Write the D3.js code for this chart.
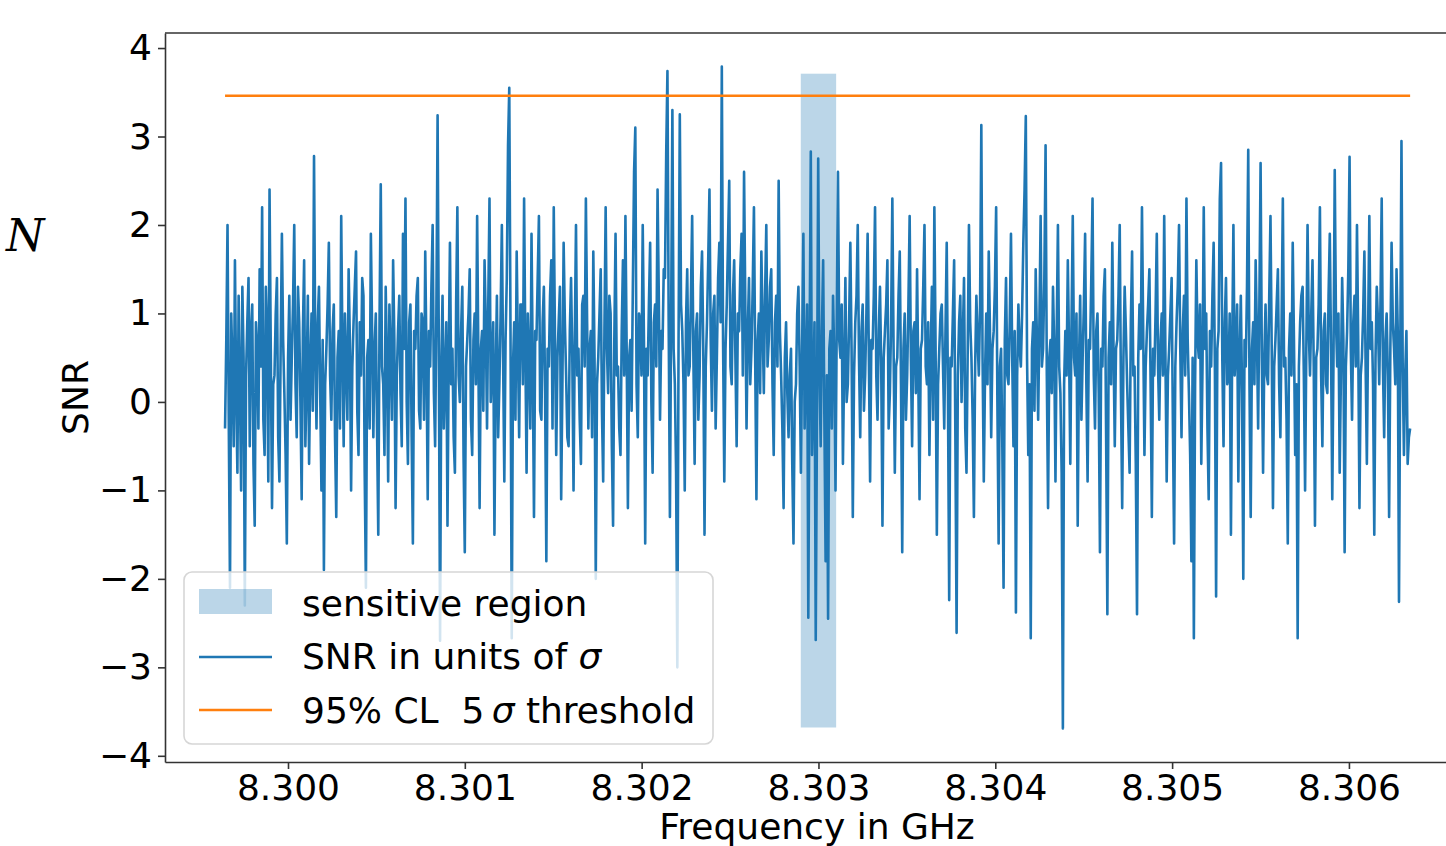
<!DOCTYPE html>
<html>
<head>
<meta charset="utf-8">
<script src="https://cdn.jsdelivr.net/npm/d3@7"></script>
<style>
  body { margin: 0; background: #fff; }
</style>
</head>
<body>
<div id="chart"></div>
<script>
// frequency grid of the scan (GHz), evenly spaced
const freqStart = 8.299644,
      freqEnd = 8.306346;

// SNR in units of sigma
const snr = [
  -0.3, 0.7, 2.0, -0.2, -2.1, 1.0, 0.4, -0.5, 1.6, 0.1, -0.8, 1.2, 0.2, -1.0, 1.3, 0.5, -2.3, 0.3, 0.9, 1.4, -0.5, 0.8, 1.1, -0.7, -1.4, 0.9, 0.6, -0.3, 1.5, 0.4, 2.2, -0.2, -0.6, 1.3, 0.8, -0.9, 2.4, 0.6, -1.2, 0.2,
  0.3, 1.0, 1.4, -0.4, -0.9, 0.6, 1.9, 0.7, 0.1, -0.6, -1.6, 0.5, 1.2, -0.2, 0.5, 1.1, 2.0, 0.2, -0.4, 1.3, 0.9, 0.0, -1.1, 0.8, 1.6, -0.5, 0.2, 1.2, -0.7, 0.4, 1.0, -0.1, 2.78, 0.6, -0.3, 0.9, 1.3, 0.1, -1.0, 0.7,
  -1.9, 0.2, 0.6, 1.1, 1.8, 0.3, -0.2, 0.8, 1.1, -0.4, -1.3, 0.5, 0.8, -0.3, 2.1, 0.6, -0.5, 1.0, 0.4, -0.2, 1.5, 0.7, -1.0, 0.4, 0.9, 1.3, 1.7, -0.1, -0.6, 0.9, 0.3, 1.4, 1.2, -0.8, -2.1, 0.5, 0.7, -0.3, 1.9, 0.8,
  -0.4, 0.6, 1.0, -0.3, -1.5, 0.9, 2.46, 0.4, 0.2, -0.6, 1.3, 0.5, -0.9, 1.1, 0.5, -0.2, 1.6, 0.7, -1.2, 0.3, 0.8, 1.2, 0.1, -0.5, 1.9, 0.6, 2.3, 0.0, -0.7, 0.9, 1.1, -0.4, -1.6, 0.8, 0.6, 1.2, 1.4, -0.1, -0.3, 1.0,
  0.9, -0.2, 1.7, 0.5, -1.1, 0.8, 0.4, 1.3, 2.0, 0.1, -0.5, 1.0, 3.24, 0.6, -2.7, 0.4, 1.2, -0.3, 0.3, 0.9, -1.4, 0.5, 1.8, 0.2, 0.6, -0.4, -0.8, 1.1, 2.2, 0.3, 0.0, 0.8, 1.3, -0.6, -1.7, 0.4, 0.7, 1.0, 1.5, -0.2,
  -0.6, 0.7, 1.0, 0.2, 2.1, 0.5, -1.2, 0.6, 0.8, -0.1, 1.6, 0.9, -0.3, 1.1, 2.3, 0.0, 0.4, 0.9, -1.5, 0.3, 1.2, -0.4, 0.2, 1.0, 2.0, 0.5, -0.9, 0.7, 1.4, 2.9, 3.55, 0.8, -2.67, 0.4, 0.9, -0.2, 1.7, 0.6, -0.4, 1.1,
  1.1, 0.2, 2.3, 0.6, -0.8, 1.0, 0.5, -0.3, 1.9, 0.4, -1.3, 0.8, 0.7, 1.4, 2.1, -0.1, -0.2, 0.9, 1.3, 0.1, -1.8, 0.6, 0.4, 1.2, 1.6, -0.3, 2.2, 0.7, -0.6, 0.5, 0.9, 1.3, -1.1, 0.2, 1.8, 0.9, 0.3, -0.4, -0.5, 0.8,
  1.4, 0.5, -1.0, 0.7, 2.0, 0.3, 0.6, -0.2, -0.7, 1.1, 1.2, 0.4, 2.3, 0.9, -0.3, 0.6, 0.8, -0.4, 1.7, 0.5, -2.0, 0.2, 0.5, 1.0, 1.5, -0.1, -0.9, 0.8, 2.2, 0.6, 0.1, 1.2, 1.0, -0.5, -1.4, 0.7, 1.9, 0.3, 0.4, -0.3,
  -0.6, 0.8, 1.6, 0.3, 2.1, 0.6, -1.2, 0.5, 0.7, -0.1, 1.3, 2.6, 3.1, 0.2, -0.4, 1.0, 0.9, 0.3, 2.0, 0.7, -1.6, 0.6, 0.3, 1.1, 1.8, 0.0, -0.8, 0.9, 1.1, 0.4, 2.4, 1.2, -0.2, 0.8, 0.6, 1.5, 1.4, 2.8, 3.74, 0.9,
  -1.3, 1.0, 3.3, 0.6, 0.2, -0.8, -3.0, 0.7, 3.25, 1.1, 0.8, 0.2, -1.0, 0.9, 1.5, 0.3, 0.4, 1.2, 2.1, 0.5, -0.7, 0.8, 1.0, -0.2, 0.3, 1.3, 1.7, 0.6, -1.5, 0.4, 0.9, 1.6, 2.4, 0.7, -0.1, 1.0, 1.2, -0.3, 0.5, 1.4,
  1.8, 0.9, 3.79, 0.7, -0.9, 0.6, 1.1, 1.8, 2.5, 0.4, 0.2, 1.2, 1.6, 0.5, -0.5, 1.0, 0.8, 1.5, 1.9, 0.3, 2.6, 1.1, -0.3, 0.8, 1.4, 0.2, 0.6, 1.3, 2.2, 0.5, -1.1, 0.7, 1.0, 0.1, 1.7, 0.9, 0.1, 1.2, 2.0, 0.4,
  0.7, 1.3, 1.5, 0.2, -0.6, 0.9, 1.2, 0.4, 2.5, 0.8, 0.3, -0.3, -1.2, 0.5, 0.9, 0.1, -0.4, 0.3, 0.6, -0.7, -1.6, 0.0, 0.2, 1.0, 1.3, 0.4, -0.8, 0.6, 1.9, -0.3, 0.4, 1.1, -2.44, 0.5, 2.83, -0.6, 0.1, 0.9, -2.69, -0.2,
  2.75, 0.4, -0.5, 0.8, 1.6, -0.2, -1.8, 0.3, -2.45, 0.6, 0.8, -0.3, 1.2, 0.5, -1.0, 0.9, 2.6, 0.7, 0.5, 1.1, -0.7, 0.4, 1.4, 0.0, 0.2, 0.9, 1.8, 0.6, -1.3, 0.3, 0.9, 1.2, 2.0, 0.5, -0.4, 0.8, 1.1, -0.1, 0.3, 1.0,
  1.9, 0.5, -0.9, 0.7, 0.6, 1.2, 2.2, 0.3, -0.2, 0.8, 1.3, 0.4, -1.4, 0.5, 0.8, 1.1, 1.6, -0.3, 0.1, 0.9, 2.3, 0.6, -0.8, 0.4, 0.5, 1.2, 1.7, 0.2, -1.7, 0.6, 1.0, -0.2, 0.3, 1.1, 2.1, 0.5, -0.5, 0.8, 0.9, 0.1,
  1.5, 0.3, -1.1, 0.6, 0.7, 1.3, 2.0, 0.4, 0.2, 0.9, -0.6, 0.5, 1.3, -0.2, 2.2, 0.6, -1.5, 0.2, 0.6, 1.0, 1.1, 0.4, -0.3, 0.8, 1.8, 0.1, -2.24, 0.5, 0.4, 1.0, 1.6, -0.4, -2.61, 0.3, 0.9, 1.2, 0.0, 0.7, 1.4, -0.3,
  -0.8, 0.6, 2.0, 0.9, 0.5, -0.2, -1.3, 0.4, 1.2, 0.7, 0.3, 1.1, 3.13, 0.5, -0.9, 0.3, 1.0, 0.2, 1.7, 0.8, -0.4, 0.6, 0.8, 1.3, 2.2, 0.0, -1.6, 0.4, 0.6, -0.5, -2.1, 0.7, 1.4, 0.3, 0.2, 0.9, 1.9, 0.5, -0.5, 0.8,
  -2.38, 0.3, 1.1, 0.6, 0.4, 1.0, 1.8, 2.4, 3.23, 0.5, -0.6, 0.2, -2.67, 0.6, 0.9, -0.1, 1.5, 0.7, -0.2, 0.9, 2.1, 0.4, 0.6, 1.4, 2.9, 0.3, -1.2, 0.5, 0.7, 0.1, 1.3, 0.6, -0.9, 0.8, 2.0, 0.4, 0.1, -0.8, -3.69, 0.2,
  0.8, 0.3, 1.6, 0.6, -0.7, 0.9, 2.1, 0.5, 0.3, 1.0, -1.4, 0.4, 1.2, -0.2, 0.5, 1.1, 1.9, 0.2, -0.9, 0.7, 0.6, 1.4, 2.3, 0.3, -0.3, 0.8, 1.0, 0.1, -1.7, 0.6, 0.4, 1.2, 1.5, -0.4, -2.4, 0.5, 0.9, 0.2, 1.8, 0.6,
  -0.5, 0.6, 0.7, 1.2, 2.0, 0.1, -1.2, 0.5, 1.3, 0.8, 0.2, -0.3, -0.8, 0.9, 1.7, 0.3, 0.4, -0.7, -2.4, 0.5, 1.1, 0.6, 2.2, 0.8, -0.6, 0.4, 0.8, 1.1, 1.5, 0.2, -1.3, 0.6, 0.3, 1.0, 1.9, 0.4, -0.2, 0.7, 1.0, 0.3,
  2.1, 0.5, -0.9, 0.3, 0.6, 1.0, 1.4, -0.2, -1.6, 0.4, 0.9, 1.3, 2.0, 0.6, -0.4, 0.8, 1.2, 0.3, 2.3, 0.7, 0.1, -0.6, -1.8, 0.5, -2.67, 0.2, 1.6, 0.7, 0.5, 1.1, -0.7, 0.4, 2.2, 0.6, 1.0, -0.3, -1.1, 0.8, 0.4, 1.2,
  1.8, 0.4, -2.2, 0.6, 0.8, 2.3, 2.7, 0.5, -0.5, 0.9, 1.4, 0.2, 0.3, 1.0, -1.5, 0.6, 2.0, 0.3, 0.6, 1.1, -0.9, 0.5, 1.2, 0.1, -2.0, 0.7, 0.4, 1.3, 2.85, 0.2, -1.3, 0.6, 0.9, 0.2, 1.6, 0.8, -0.3, 1.1, 2.7, 0.5,
  -0.8, 0.5, 1.1, 0.3, 0.2, 1.2, 2.1, 0.6, -1.2, 0.4, 0.7, 1.1, 1.5, 0.2, -0.4, 0.9, 2.3, 0.4, 0.5, -0.2, -1.6, 0.6, 1.0, 0.3, 1.8, 0.7, -0.6, 0.2, -2.67, 0.4, 0.9, 1.2, 1.3, 0.3, -1.0, 0.6, 2.0, 0.8, 0.3, 1.0,
  1.6, 0.4, -1.4, 0.5, 0.6, 1.1, 2.2, 0.3, -0.5, 0.8, 1.0, 0.2, 0.1, 1.2, 1.9, 0.6, -1.1, 0.5, 2.62, 0.9, 0.4, 1.0, -0.8, 0.3, 1.4, 0.7, -1.7, 0.4, 0.8, 1.5, 2.77, 0.6, -0.2, 0.9, 1.2, 0.4, 2.0, 0.7, -1.2, 0.3,
  0.5, 1.0, 1.7, 0.4, -0.7, 0.8, 2.1, 0.6, 0.9, 0.2, -1.5, 0.5, 1.3, 0.9, 0.2, 1.1, 2.3, 0.4, -0.4, 0.7, 1.0, 0.3, -1.3, 0.6, 1.8, 0.9, 0.6, 0.2, 1.5, 0.8, -2.26, 0.5, 2.95, 0.4, -0.6, 0.3, 0.8, -0.7, -0.4, -0.3
];

// threshold and sensitive region
const threshold = [3.46];
const regionFreq = [8.3029, 8.3031];
const regionSnr = [-3.68, 3.71];

const xTicks = [8.300, 8.301, 8.302, 8.303, 8.304, 8.305, 8.306];
const yTicks = [-4, -3, -2, -1, 0, 1, 2, 3, 4];
const legendLabels = ["sensitive region", "SNR in units of ", "95% CL  5\u2009", " threshold"];

const width = 1446, height = 846,
      margin = ({top: 33, left: 165, bottom: 762, right: 1469});

const blue = "#1f77b4", orange = "#ff7f0e",
      sans = "'DejaVu Sans', sans-serif";

let data = snr.map((v, i) => ({
  f: freqStart + i * (freqEnd - freqStart) / (snr.length - 1),
  v: v
}));

let svg = d3.select("#chart")
  .append("svg")
  .attr("width", width)
  .attr("height", height)
  .attr("viewBox", [0, 0, width, height])
  .style("font-family", sans);

const x = d3.scaleLinear()
  .domain([8.2993044, 8.306679])
  .range([margin.left, margin.right]);

const y = d3.scaleLinear()
  .domain([-4.07, 4.17])
  .range([margin.bottom, margin.top]);

// sensitive region
svg.append("rect")
  .attr("x", x(regionFreq[0]))
  .attr("width", x(regionFreq[1]) - x(regionFreq[0]))
  .attr("y", y(regionSnr[1]))
  .attr("height", y(regionSnr[0]) - y(regionSnr[1]))
  .attr("fill", blue)
  .attr("fill-opacity", 0.3);

// SNR trace
const line = d3.line()
  .x(d => x(d.f))
  .y(d => y(d.v));

svg.append("path")
  .datum(data)
  .attr("fill", "none")
  .attr("stroke", blue)
  .attr("stroke-width", 2.6)
  .attr("stroke-linejoin", "round")
  .attr("d", line);

// threshold line
svg.append("line")
  .attr("x1", x(freqStart))
  .attr("x2", x(freqEnd))
  .attr("y1", y(threshold[0]))
  .attr("y2", y(threshold[0]))
  .attr("stroke", orange)
  .attr("stroke-width", 2.5);

// axes
const xAxis = g => g
  .attr("transform", `translate(0, ${margin.bottom})`)
  .call(d3.axisBottom(x).tickValues(xTicks).tickFormat(d3.format(".3f"))
    .tickSize(7).tickPadding(5).tickSizeOuter(0));

const yAxis = g => g
  .attr("transform", `translate(${margin.left}, 0)`)
  .call(d3.axisLeft(y).tickValues(yTicks).tickSize(7).tickPadding(6).tickSizeOuter(0));

svg.append("g").call(xAxis).attr("font-family", null);
svg.append("g").call(yAxis).attr("font-family", null);

svg.selectAll(".tick text")
  .attr("font-size", 36)
  .attr("fill", "#000");
svg.selectAll(".tick line")
  .attr("stroke", "#333")
  .attr("stroke-width", 1.6);
svg.selectAll(".domain")
  .attr("stroke", "#333")
  .attr("stroke-width", 1.6);

// top spine
svg.append("line")
  .attr("x1", margin.left).attr("x2", margin.right)
  .attr("y1", margin.top).attr("y2", margin.top)
  .attr("stroke", "#333")
  .attr("stroke-width", 1.6);

// axis labels
svg.append("text")
  .text("Frequency in GHz")
  .attr("x", (margin.left + margin.right) / 2)
  .attr("y", 839)
  .attr("text-anchor", "middle")
  .attr("font-size", 36);

svg.append("text")
  .text("SNR")
  .attr("transform", `translate(88, ${(margin.top + margin.bottom) / 2}) rotate(-90)`)
  .attr("text-anchor", "middle")
  .attr("font-size", 36);

// neighbouring label, clipped by the left edge
svg.append("text")
  .text("P")
  .attr("x", -33)
  .attr("y", 244)
  .style("font-family", "'DejaVu Serif', serif")
  .style("font-style", "italic")
  .attr("font-size", 46);
svg.append("text")
  .text("N")
  .attr("x", 6)
  .attr("y", 251)
  .style("font-family", "'DejaVu Serif', serif")
  .style("font-style", "italic")
  .attr("font-size", 44);

// legend
let legend = svg.append("g");
legend.append("rect")
  .attr("x", 184).attr("y", 572)
  .attr("width", 529).attr("height", 172)
  .attr("rx", 8)
  .attr("fill", "#fff")
  .attr("fill-opacity", 0.8)
  .attr("stroke", "#d6d6d6")
  .attr("stroke-width", 1.6);

legend.append("rect")
  .attr("x", 199).attr("y", 589)
  .attr("width", 73).attr("height", 25)
  .attr("fill", blue)
  .attr("fill-opacity", 0.3);

legend.append("line")
  .attr("x1", 199).attr("x2", 272)
  .attr("y1", 657).attr("y2", 657)
  .attr("stroke", blue).attr("stroke-width", 2.4);

legend.append("line")
  .attr("x1", 199).attr("x2", 272)
  .attr("y1", 710).attr("y2", 710)
  .attr("stroke", orange).attr("stroke-width", 2.5);

legend.append("text")
  .attr("x", 302).attr("y", 616)
  .attr("font-size", 36)
  .text(legendLabels[0]);

let t2 = legend.append("text")
  .attr("x", 302).attr("y", 669)
  .attr("font-size", 36)
  .style("white-space", "pre");
t2.append("tspan").text(legendLabels[1]);
t2.append("tspan").style("font-style", "italic").text("σ");

let t3 = legend.append("text")
  .attr("x", 302).attr("y", 723)
  .attr("font-size", 36)
  .style("white-space", "pre");
t3.append("tspan").text(legendLabels[2]);
t3.append("tspan").style("font-style", "italic").text("σ");
t3.append("tspan").text(legendLabels[3]);
</script>
</body>
</html>
